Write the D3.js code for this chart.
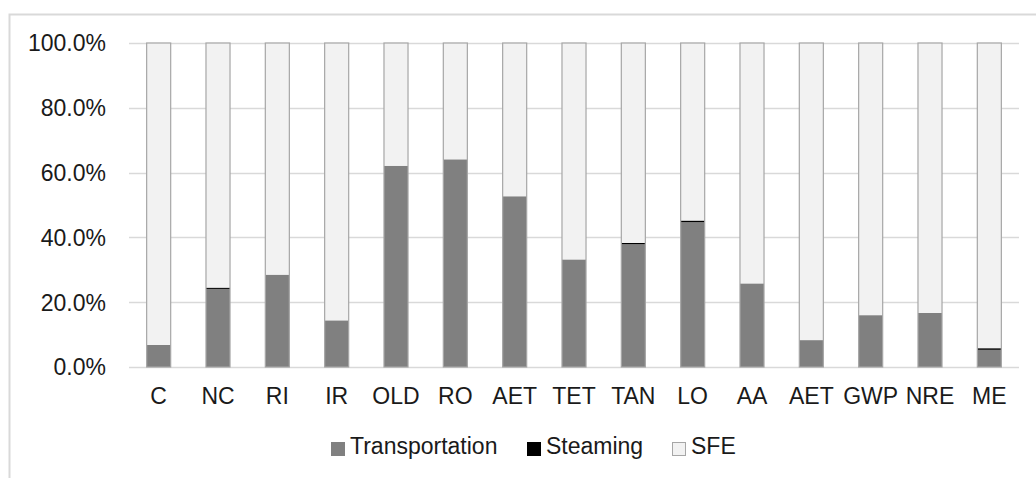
<!DOCTYPE html>
<html><head><meta charset="utf-8">
<script src="https://cdn.jsdelivr.net/npm/d3@7"></script>
<style>html,body{margin:0;padding:0;background:#fff;overflow:hidden}</style>
</head><body>
<svg id="c" width="1036" height="478"></svg>
<script>
const categories = ["C","NC","RI","IR","OLD","RO","AET","TET","TAN","LO","AA","AET","GWP","NRE","ME"];
const transportation = [6.8,24.1,28.5,14.4,62.1,64.1,52.7,33.2,37.9,44.7,25.8,8.3,16.0,16.7,5.3];
const steaming =       [0,0.4,0,0,0,0,0,0,0.4,0.5,0,0,0,0,0.5];
const sfe =            [93.2,75.5,71.5,85.6,37.9,35.9,47.3,66.8,61.7,54.8,74.2,91.7,84.0,83.3,94.2];
const yTicks = [0,20,40,60,80,100];
const seriesNames = ["Transportation","Steaming","SFE"];
const colors = {Transportation:"#808080", Steaming:"#000000", SFE:"#f2f2f2"};

const svg = d3.select("#c");
const font = "'Liberation Sans', Arial, sans-serif";

// frame
svg.append("rect").attr("x",9.5).attr("y",14.5).attr("width",1100).attr("height",600)
  .attr("fill","#fff").attr("stroke","#d9d9d9").attr("stroke-width",2);

const x = d3.scaleBand().domain(d3.range(categories.length)).range([129,1019]).paddingInner(0.595).paddingOuter(0.2975);
const y = d3.scaleLinear().domain([0,100]).range([367,43]);

// gridlines
svg.append("g").selectAll("line").data(yTicks).join("line")
  .attr("x1",129).attr("x2",1019)
  .attr("y1",d=>Math.round(y(d))+0.5).attr("y2",d=>Math.round(y(d))+0.5)
  .attr("stroke","#d9d9d9").attr("stroke-width",1.5);

// y labels
svg.append("g").selectAll("text").data(yTicks).join("text")
  .attr("x",106).attr("y",d=>y(d)+8.3).attr("text-anchor","end")
  .attr("font-family",font).attr("font-size",23).attr("fill","#1a1a1a")
  .text(d=>d.toFixed(1)+"%");

// stacked data
const rows = categories.map((c,i)=>({i, Transportation:transportation[i], Steaming:steaming[i], SFE:sfe[i]}));
const stack = d3.stack().keys(seriesNames)(rows);

const g = svg.append("g");
stack.forEach(layer=>{
  g.append("g").selectAll("rect").data(layer).join("rect")
    .attr("x",d=>x(d.data.i)).attr("width",x.bandwidth())
    .attr("y",d=>y(d[1])).attr("height",d=>Math.max(0,y(d[0])-y(d[1])))
    .attr("fill",colors[layer.key]);
});
// bar outlines
g.append("g").selectAll("rect").data(rows).join("rect")
  .attr("x",d=>x(d.i)).attr("width",x.bandwidth())
  .attr("y",d=>y(d.Transportation+d.Steaming+d.SFE)).attr("height",d=>y(0)-y(d.Transportation+d.Steaming+d.SFE))
  .attr("fill","none").attr("stroke","#a6a6a6").attr("stroke-width",1.2);

// x labels
svg.append("g").selectAll("text").data(categories).join("text")
  .attr("x",(d,i)=>x(i)+x.bandwidth()/2).attr("y",404)
  .attr("text-anchor","middle").attr("font-family",font).attr("font-size",23).attr("fill","#1a1a1a")
  .text(d=>d);

// legend
const legendX = [331,527,672];
const lg = svg.append("g");
seriesNames.forEach((s,k)=>{
  lg.append("rect").attr("x",legendX[k]+0.5).attr("y",442.5).attr("width",13).attr("height",13)
    .attr("fill",colors[s]).attr("stroke", s==="SFE" ? "#a6a6a6" : colors[s]).attr("stroke-width",1);
  lg.append("text").attr("x",legendX[k]+19).attr("y",454)
    .attr("font-family",font).attr("font-size",23).attr("fill","#1a1a1a").text(s);
});
</script>
</body></html>
